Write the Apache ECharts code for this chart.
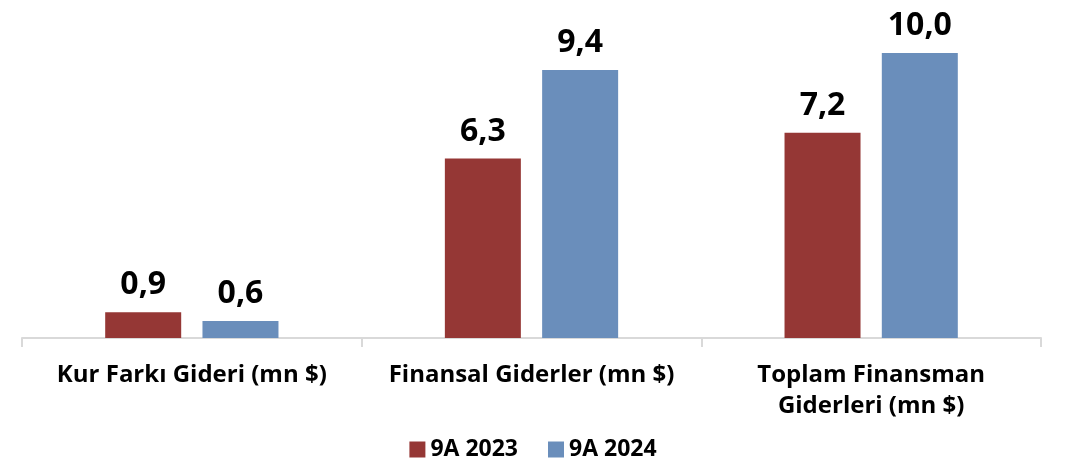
<!DOCTYPE html>
<html>
<head>
<meta charset="utf-8">
<script src="https://cdn.jsdelivr.net/npm/echarts@6/dist/echarts.min.js"></script>
<style>
  html, body { margin: 0; padding: 0; background: #fff; }
  #chart { width: 1066px; height: 466px; }
</style>
</head>
<body>
<div id="chart"></div>
<script>
var categories = ['Kur Farkı Gideri (mn $)', 'Finansal Giderler (mn $)', 'Toplam Finansman\nGiderleri (mn $)'];
var seriesNames = ['9A 2023', '9A 2024'];
var values2023 = [0.9, 6.3, 7.2];
var values2024 = [0.6, 9.4, 10.0];

var font = '"Open Sans", "DejaVu Sans", sans-serif';

// virgüllü ondalık gösterim
function fmt(p) {
    return p.value.toFixed(1).replace('.', ',');
}

var chart = echarts.init(document.getElementById('chart'));
chart.setOption({
    animation: false,
    grid: { left: 22, right: 25, top: 24.5, bottom: 128 },
    legend: {
        bottom: 0,
        left: 'center',
        itemWidth: 16,
        itemHeight: 16,
        itemGap: 30,
        icon: 'rect',
        textStyle: { fontFamily: font, fontWeight: 'bold', fontSize: 23, color: '#000' },
        data: seriesNames
    },
    xAxis: {
        type: 'category',
        data: categories,
        axisLine: { lineStyle: { color: '#d9d9d9', width: 2 } },
        axisTick: { show: true, length: 9, lineStyle: { color: '#d9d9d9', width: 2 } },
        axisLabel: {
            interval: 0,
            margin: 22,
            lineHeight: 31,
            fontFamily: font,
            fontWeight: 'bold',
            fontSize: 24,
            color: '#000'
        }
    },
    yAxis: {
        type: 'value',
        min: 0,
        max: 11,
        show: false,
        splitLine: { show: false }
    },
    series: [{
        name: seriesNames[0],
        type: 'bar',
        data: values2023,
        barWidth: 76,
        barGap: '28%',
        itemStyle: { color: '#953735' },
        label: {
            show: true, position: 'top', distance: 11,
            formatter: fmt,
            fontFamily: font, fontWeight: 'bold', fontSize: 32, color: '#000'
        }
    }, {
        name: seriesNames[1],
        type: 'bar',
        data: values2024,
        barWidth: 76,
        itemStyle: { color: '#6a8ebb' },
        label: {
            show: true, position: 'top', distance: 11,
            formatter: fmt,
            fontFamily: font, fontWeight: 'bold', fontSize: 32, color: '#000'
        }
    }]
});
</script>
</body>
</html>
